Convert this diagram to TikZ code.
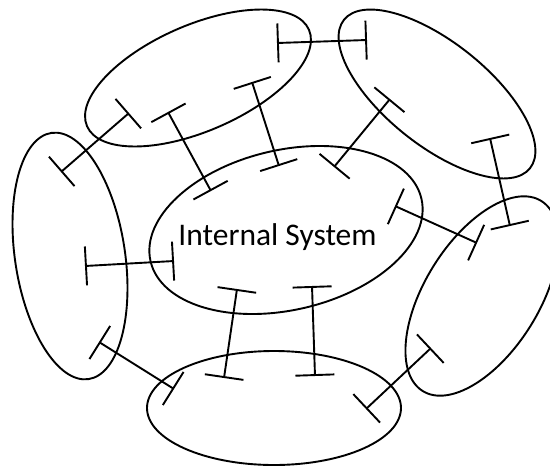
\documentclass[tikz,border=0pt]{standalone}
\usepackage{fontspec}
\setmainfont{Carlito}
\usetikzlibrary{shapes.geometric,arrows.meta}
\begin{document}
\begin{tikzpicture}[x=1pt,y=-1pt,
  sys/.style={draw,ellipse,line width=1.9pt,inner sep=0pt,outer sep=0pt},
  link/.style={line width=1.9pt,{Bar[width=39pt]}-{Bar[width=39pt]}}]
\useasboundingbox (0,0) rectangle (550,467);
% ellipses
\node[sys,minimum width=278pt,minimum height=160pt,rotate=13] (int) at (286,230) {};
\node[sys,minimum width=242pt,minimum height=106pt,rotate=23.5] (tl) at (198,78) {};
\node[sys,minimum width=238pt,minimum height=103pt,rotate=-38.6] (tr) at (437,94) {};
\node[sys,minimum width=224pt,minimum height=114pt,rotate=58] (rt) at (482,296) {};
\node[sys,minimum width=110pt,minimum height=249pt,rotate=8.6] (lf) at (70,256) {};
\node[sys,minimum width=254pt,minimum height=114pt] (bt) at (274,408) {};
\node[anchor=base,font=\fontsize{31.5}{36}\selectfont,inner sep=0pt] (lbl) at (277.5,245) {Internal System};
% connector end points
\coordinate (a1) at (277,43);  \coordinate (b1) at (367,40);
\coordinate (a2) at (129,113); \coordinate (b2) at (61,172);
\coordinate (a3) at (168,112); \coordinate (b3) at (211,191);
\coordinate (a4) at (252,82);  \coordinate (b4) at (279,166);
\coordinate (a5) at (390,99);  \coordinate (b5) at (334,167);
\coordinate (a6) at (490,138); \coordinate (b6) at (510,226);
\coordinate (a7) at (395,206); \coordinate (b7) at (477,243);
\coordinate (a8) at (85,266);  \coordinate (b8) at (174,261);
\coordinate (a9) at (237,289); \coordinate (b9) at (224,378);
\coordinate (a10) at (312,286); \coordinate (b10) at (315,376);
\coordinate (a11) at (99,342); \coordinate (b11) at (174,389);
\coordinate (a12) at (366,409); \coordinate (b12) at (431,348);
% connectors
\foreach \i in {1,...,12}{\draw[link] (a\i) -- (b\i);}
\end{tikzpicture}
\end{document}
